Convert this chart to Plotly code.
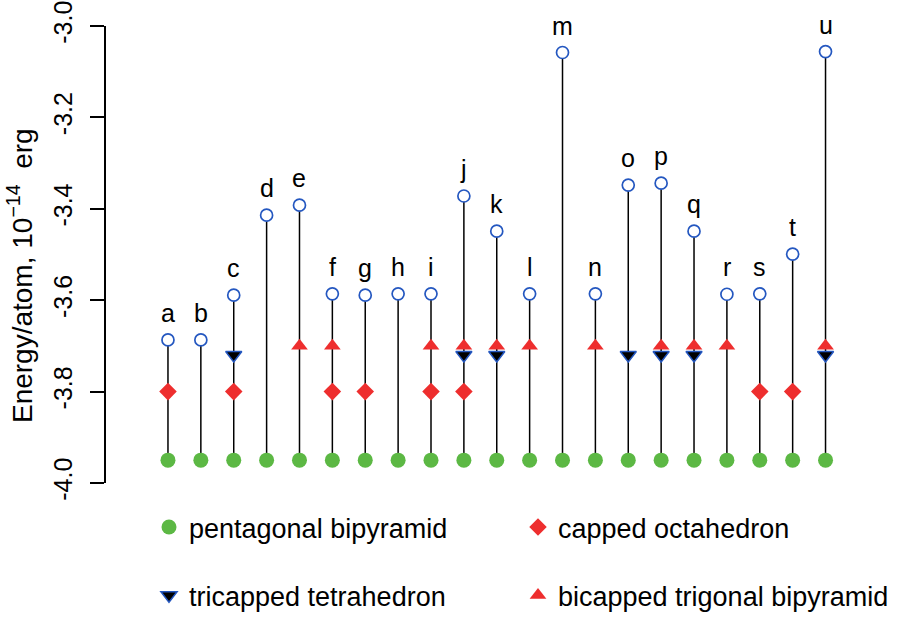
import plotly.graph_objects as go

categories = ["a", "b", "c", "d", "e", "f", "g", "h", "i", "j", "k",
              "l", "m", "n", "o", "p", "q", "r", "s", "t", "u"]
top_energy = [-3.687, -3.687, -3.589, -3.414, -3.392, -3.586, -3.589, -3.586,
              -3.586, -3.372, -3.449, -3.586, -3.058, -3.586, -3.348, -3.344,
              -3.449, -3.587, -3.586, -3.499, -3.056]
pentagonal = [-3.95, -3.95, -3.95, -3.95, -3.95, -3.95, -3.95, -3.95, -3.95,
              -3.95, -3.95, -3.95, -3.95, -3.95, -3.95, -3.95, -3.95, -3.95,
              -3.95, -3.95, -3.95]
capped_oct = [-3.80, None, -3.80, None, None, -3.80, -3.80, None, -3.80, -3.80,
              None, None, None, None, None, None, None, None, -3.80, -3.80, None]
tricapped = [None, None, -3.72, None, None, None, None, None, None, -3.72, -3.72,
             None, None, None, -3.72, -3.72, -3.72, None, None, None, -3.72]
bicapped = [None, None, None, None, -3.70, -3.70, None, None, -3.70, -3.70, -3.70,
            -3.70, None, -3.70, None, -3.70, -3.70, -3.70, None, None, -3.70]
y_ticks = [-4.0, -3.8, -3.6, -3.4, -3.2, -3.0]
y_tick_text = ["-4.0", "-3.8", "-3.6", "-3.4", "-3.2", "-3.0"]

FONT = "Liberation Sans, Arial, Helvetica, sans-serif"
GREEN = "#5cb844"
RED = "#ee2e2e"
BLUE = "#2457c0"

xpos = list(range(1, len(categories) + 1))

# stems
sx, sy = [], []
for xp, lo, hi in zip(xpos, pentagonal, top_energy):
    sx += [xp, xp, None]
    sy += [lo, hi, None]

fig = go.Figure()
fig.add_trace(go.Scatter(x=sx, y=sy, mode="lines",
                         line=dict(color="black", width=1.5),
                         showlegend=False, hoverinfo="skip", cliponaxis=False))
fig.add_trace(go.Scatter(x=xpos, y=pentagonal, mode="markers",
                         name="pentagonal bipyramid", legend="legend",
                         legendgroup="g1",
                         marker=dict(symbol="circle", size=15, color=GREEN),
                         cliponaxis=False))
fig.add_trace(go.Scatter(x=xpos, y=capped_oct, mode="markers",
                         name="capped octahedron", legend="legend2",
                         legendgroup="g2",
                         marker=dict(symbol="diamond", size=13.5, color=RED),
                         cliponaxis=False))
fig.add_trace(go.Scatter(x=xpos, y=tricapped, mode="markers",
                         name="tricapped tetrahedron", legend="legend",
                         legendgroup="g3",
                         marker=dict(symbol="triangle-down", size=14, color="black",
                                     line=dict(color=BLUE, width=1.5)),
                         cliponaxis=False))
fig.add_trace(go.Scatter(x=xpos, y=bicapped, mode="markers",
                         name="bicapped trigonal bipyramid", legend="legend2",
                         legendgroup="g4",
                         marker=dict(symbol="triangle-up", size=14.5, color=RED),
                         cliponaxis=False))
fig.add_trace(go.Scatter(x=xpos, y=top_energy, mode="markers",
                         marker=dict(symbol="circle", size=12, color="white",
                                     line=dict(color=BLUE, width=1.7)),
                         showlegend=False, cliponaxis=False))

for xp, yv, lab in zip(xpos, top_energy, categories):
    fig.add_annotation(x=xp, y=yv, text=lab, showarrow=False,
                       xanchor="center", yanchor="bottom", yshift=11,
                       font=dict(family=FONT, size=25, color="black"))

fig.add_annotation(text="Energy/atom, 10<sup>\u221214</sup>\u00a0 erg",
                   xref="paper", yref="paper", x=-0.110, y=0.455,
                   xanchor="center", yanchor="middle", textangle=-90,
                   showarrow=False, font=dict(family=FONT, size=28, color="black"))

legend_common = dict(orientation="v", traceorder="grouped", tracegroupgap=30,
                     font=dict(family=FONT, size=27, color="black"),
                     bgcolor="rgba(0,0,0,0)", xref="container", yref="container",
                     xanchor="left", yanchor="top")

fig.update_layout(
    width=913, height=630,
    margin=dict(l=106, r=25, t=26, b=147, autoexpand=False),
    plot_bgcolor="white", paper_bgcolor="white",
    font=dict(family=FONT, color="black"),
    xaxis=dict(range=[-0.885, 22.9], showline=False, automargin=False,
               showticklabels=False, ticks="", showgrid=False, zeroline=False),
    yaxis=dict(range=[-4.0, -3.0], tickvals=y_ticks, ticktext=y_tick_text,
               tickangle=-90, ticks="outside", ticklen=14, tickwidth=1.5,
               tickcolor="black", showline=True, linewidth=1.5, linecolor="black",
               showgrid=False, zeroline=False, ticklabelstandoff=8, automargin=False,
               tickfont=dict(family=FONT, size=25, color="black")),
    legend=dict(x=149 / 913, y=1 - 503 / 630, **legend_common),
    legend2=dict(x=518 / 913, y=1 - 503 / 630, **legend_common),
)

fig.write_html("out.html")
